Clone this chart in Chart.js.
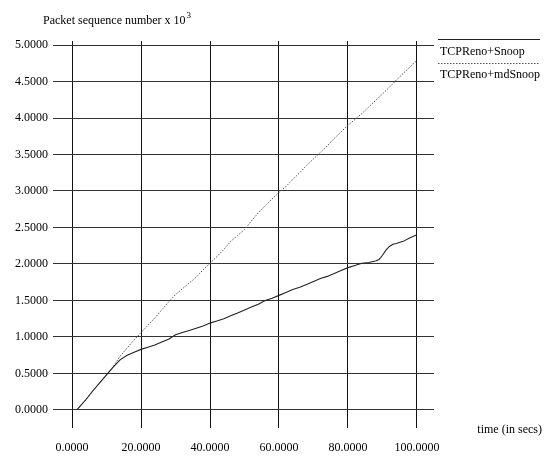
<!DOCTYPE html>
<html>
<head>
<meta charset="utf-8">
<script src="https://cdn.jsdelivr.net/npm/chart.js@4.4.1/dist/chart.umd.min.js"></script>
<style>
html,body{margin:0;padding:0;background:#fff;}
#wrap{width:548px;height:457px;position:relative;}
</style>
</head>
<body>
<div id="wrap"><canvas id="c" width="548" height="457"></canvas></div>
<script>
// ---- data ----
const snoopTime   = [1.4,4,6,8,10,12,14,16,18,20,22,24,26,28,30,32,34,36,38,40,42,44,46,48,50,52,54,56,58,60,62,64,66,68,70,72,74,76,78,80,82,84,86,88,89,90,91,92,93,94,96,98,100];
const snoopSeq    = [0,0.14,0.26,0.37,0.48,0.59,0.69,0.75,0.79,0.83,0.86,0.89,0.93,0.97,1.03,1.06,1.09,1.12,1.15,1.19,1.22,1.25,1.29,1.33,1.37,1.41,1.45,1.50,1.53,1.57,1.61,1.65,1.68,1.72,1.76,1.80,1.83,1.87,1.91,1.95,1.98,2.01,2.02,2.04,2.06,2.12,2.19,2.24,2.27,2.28,2.31,2.36,2.40];
const mdSnoopTime = [1.4,4,6,8,10,12,14,16,18,20,22,24,26,28,30,32,34,36,38,40,42,44,46,48,50,52,54,56,58,60,62,64,66,68,70,72,74,76,78,80,82,84,86,88,90,92,94,96,98,100];
const mdSnoopSeq  = [0,0.14,0.26,0.37,0.48,0.60,0.74,0.85,0.96,1.06,1.16,1.26,1.37,1.48,1.58,1.66,1.74,1.82,1.92,2.01,2.10,2.20,2.31,2.39,2.47,2.59,2.70,2.80,2.89,2.98,3.06,3.16,3.25,3.35,3.44,3.53,3.62,3.72,3.81,3.90,3.98,4.06,4.15,4.24,4.33,4.42,4.52,4.61,4.70,4.79];
const xTicks = [0,20,40,60,80,100];
const yTicks = [0,0.5,1,1.5,2,2.5,3,3.5,4,4.5,5];
const seriesNames = ['TCPReno+Snoop','TCPReno+mdSnoop'];
const yTitle = 'Packet sequence number x 10';
const yTitleSup = '3';
const xTitle = 'time (in secs)';

const FONT = '"Liberation Serif", "DejaVu Serif", serif';
Chart.defaults.font.family = FONT;
Chart.defaults.font.size = 12;
Chart.defaults.color = '#000';

function pts(xs, ys){ return xs.map((x,i)=>({x:x, y:ys[i]})); }

const decor = {
  id: 'decor',
  afterDraw(chart){
    const ctx = chart.ctx;
    ctx.save();
    ctx.fillStyle = '#000';
    ctx.font = '12px ' + FONT;
    ctx.textBaseline = 'alphabetic';
    ctx.textAlign = 'left';
    // y title with superscript
    ctx.fillText(yTitle, 43, 24);
    const w = ctx.measureText(yTitle).width;
    ctx.font = '9px ' + FONT;
    ctx.fillText(yTitleSup, 43 + w + 1, 18);
    // x title
    ctx.font = '12px ' + FONT;
    ctx.textAlign = 'right';
    ctx.fillText(xTitle, 542, 433);
    ctx.textAlign = 'left';
    // legend
    const ds = chart.data.datasets;
    const rows = [{ly:39, ty:55},{ly:63, ty:78}];
    ds.forEach((d,i)=>{
      const r = rows[i];
      ctx.beginPath();
      ctx.strokeStyle = d.borderColor;
      ctx.lineWidth = 1;
      ctx.setLineDash(d.borderDash || []);
      ctx.moveTo(438, r.ly + 0.5);
      ctx.lineTo(540, r.ly + 0.5);
      ctx.stroke();
      ctx.setLineDash([]);
      ctx.fillStyle = '#000';
      ctx.font = '12px ' + FONT;
      ctx.fillText(d.label, 440, r.ty);
    });
    ctx.restore();
  }
};

new Chart(document.getElementById('c'), {
  type: 'line',
  data: {
    datasets: [
      { label: seriesNames[0], data: pts(snoopTime, snoopSeq), borderColor: '#222', borderWidth: 1.1, pointRadius: 0, tension: 0, fill: false },
      { label: seriesNames[1], data: pts(mdSnoopTime, mdSnoopSeq), borderColor: '#555', borderWidth: 1, borderDash: [1.5,1.5], pointRadius: 0, tension: 0, fill: false }
    ]
  },
  options: {
    responsive: false,
    animation: false,
    layout: { padding: { left: 0, right: 114, top: 41, bottom: 0 } },
    plugins: { legend: { display: false }, tooltip: { enabled: false } },
    scales: {
      x: {
        type: 'linear',
        min: -5.51, max: 104.93,
        afterBuildTicks(s){ s.ticks = xTicks.map(v=>({value:v})); },
        afterFit(s){ s.height = 29; },
        border: { display: false },
        grid: { color: '#111', lineWidth: 1, drawTicks: false },
        ticks: { padding: 13, maxRotation: 0, autoSkip: false, callback: v => Number(v).toFixed(4), font: { size: 12 } }
      },
      y: {
        type: 'linear',
        min: -0.247, max: 5.055,
        afterBuildTicks(s){ s.ticks = yTicks.map(v=>({value:v})); },
        afterFit(s){ s.width = 53; },
        border: { display: false },
        grid: { color: '#333', lineWidth: 1, drawTicks: false },
        ticks: { padding: 5, autoSkip: false, callback: v => Number(v).toFixed(4), font: { size: 12 } }
      }
    }
  },
  plugins: [decor]
});
</script>
</body>
</html>
